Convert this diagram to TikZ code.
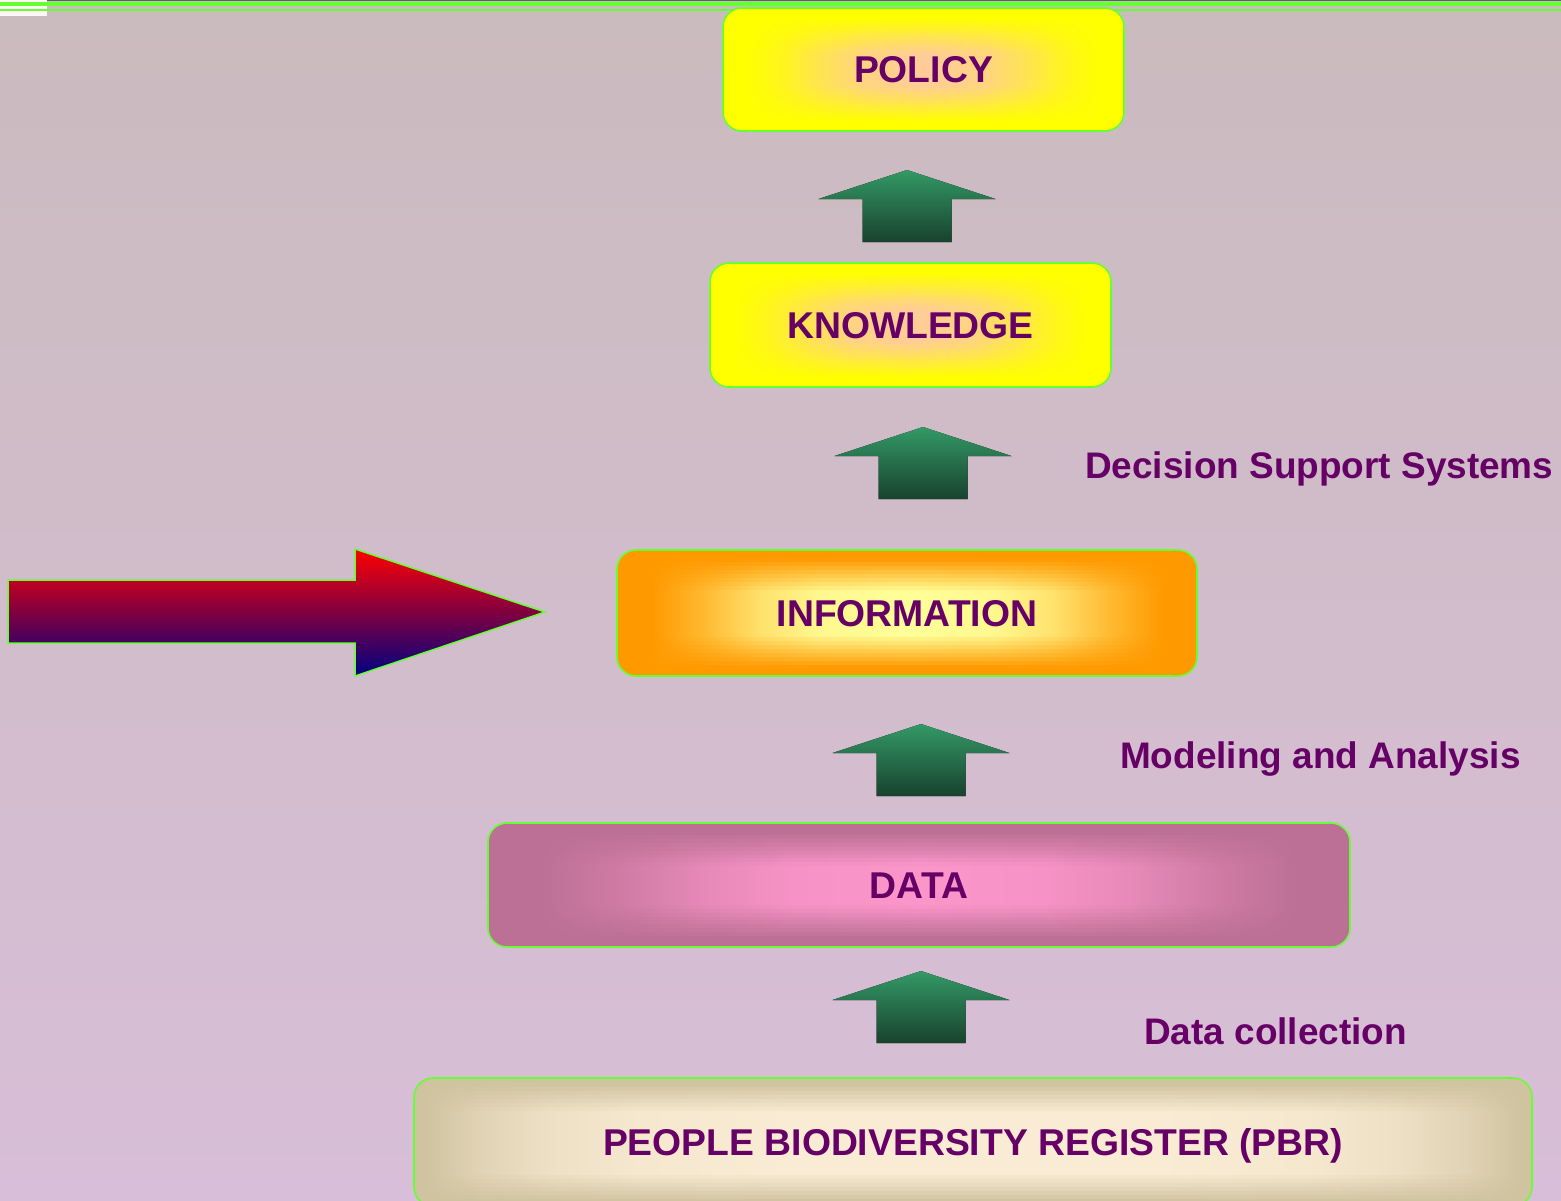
\documentclass[tikz,border=0pt]{standalone}
\usepackage{fontspec}
\setmainfont{Liberation Sans}
\usetikzlibrary{calc}
\definecolor{bgtop}{RGB}{202,187,190}
\definecolor{bgbot}{RGB}{216,190,216}
\definecolor{lime}{RGB}{102,255,51}
\definecolor{txt}{RGB}{102,0,102}
\definecolor{arrtop}{RGB}{51,153,102}
\definecolor{arrbot}{RGB}{24,66,45}
\definecolor{polin}{RGB}{255,204,153}
\definecolor{polout}{RGB}{255,255,0}
\definecolor{infin}{RGB}{255,255,153}
\definecolor{infout}{RGB}{255,153,0}
\definecolor{datin}{RGB}{252,150,202}
\definecolor{datout}{RGB}{188,112,149}
\definecolor{pbrin}{RGB}{250,236,212}
\definecolor{pbrout}{RGB}{208,195,160}
\definecolor{navyb}{RGB}{0,0,130}
\definecolor{bigmid}{RGB}{160,0,135}
\colorlet{gout}{white}\colorlet{gin}{white}\colorlet{gA}{white}\colorlet{gB}{white}\colorlet{gC}{white}
\pgfdeclarehorizontalshading[gout,gA,gB,gC,gin]{boxhA}{100bp}{color(0bp)=(gout); color(28bp)=(gout); color(32.5bp)=(gA); color(37.5bp)=(gB); color(42.5bp)=(gC); color(50bp)=(gin); color(57.5bp)=(gC); color(62.5bp)=(gB); color(67.5bp)=(gA); color(72bp)=(gout); color(100bp)=(gout)}
\pgfdeclarehorizontalshading[gout,gA,gB,gC,gin]{boxhB}{100bp}{color(0bp)=(gout); color(25.5bp)=(gout); color(28bp)=(gA); color(31bp)=(gB); color(35bp)=(gC); color(42bp)=(gin); color(58bp)=(gin); color(65bp)=(gC); color(69bp)=(gB); color(72bp)=(gA); color(74.5bp)=(gout); color(100bp)=(gout)}
% #1 inner, #2 outer, #3 shading, #4-#6 mix percentages, #7 vstart, #8 vspan
\newcommand\gradfill[8]{%
  \foreach \j in {0,...,31}{%
    \pgfmathsetmacro\t{1-abs(2*(\j+0.5)/32-1)}%
    \pgfmathsetmacro\v{100*min(1,max(0,(\t-#7)/#8))}%
    \colorlet{gout}{#2}%
    \colorlet{gin}{#1!\v!#2}%
    \colorlet{gA}{gin!#4!gout}%
    \colorlet{gB}{gin!#5!gout}%
    \colorlet{gC}{gin!#6!gout}%
    \shade[sharp corners, shading=#3] ($(path picture bounding box.south west)!{\j/32}!(path picture bounding box.north west)$) rectangle ($(path picture bounding box.south east)!{(\j+1.08)/32}!(path picture bounding box.north east)$);
  }}
\tikzset{
  box/.style={draw=lime, line width=1.6pt, rounded corners=19pt,
    font=\bfseries\fontsize{37.3}{40}\selectfont, text=txt,
    text height=26.5pt, text depth=0pt, inner sep=0pt},
  lbl/.style={font=\bfseries\fontsize{36.95}{40}\selectfont, text=txt, inner sep=0pt, anchor=base west},
  uparrow/.style={top color=arrtop, bottom color=arrbot},
}
\newcommand\uparr[3]{%
  \coordinate (#1) at (#2,#3);
  \fill[uparrow, shift={(#1)}] (-44.5,72) -- (-44.5,29) -- (-88.5,29) -- (0,0) -- (88.5,29) -- (44.5,29) -- (44.5,72) -- cycle;}
\begin{document}
\begin{tikzpicture}[x=1pt,y=-1pt]
\useasboundingbox (0,0) rectangle (1561,1200);
% background
\fill[top color=bgtop, bottom color=bgbot] (0,0) rectangle (1561,1200);
\fill[white!85!pink] (0,0) rectangle (47,16);
\fill[black!60!green!50!gray] (47,0) rectangle (1561,1.3);
\fill[lime] (0,1.5) rectangle (1561,6);
\fill[lime] (0,9) rectangle (1561,11.3);
% boxes
\node[box, minimum width=401pt, minimum height=123pt, path picture={\gradfill{polin}{polout}{boxhA}{20}{55}{85}{0.16}{0.58}}] (policy) at (923.5,69.5) {POLICY};
\node[box, minimum width=401pt, minimum height=124pt, path picture={\gradfill{polin}{polout}{boxhA}{20}{55}{85}{0.16}{0.58}}] (knowledge) at (910.5,325) {KNOWLEDGE};
\node[box, minimum width=580pt, minimum height=126pt, path picture={\gradfill{infin}{infout}{boxhA}{32}{72}{93}{0.14}{0.52}}] (information) at (907,613) {INFORMATION};
\node[box, minimum width=862pt, minimum height=124pt, path picture={\gradfill{datin}{datout}{boxhA}{28}{66}{90}{0.15}{0.55}}] (data) at (919,885) {DATA};
\node[box, minimum width=1118pt, minimum height=128pt, path picture={\gradfill{pbrin}{pbrout}{boxhB}{40}{70}{90}{0.08}{0.45}}] (pbr) at (973,1142) {PEOPLE BIODIVERSITY REGISTER (PBR)};
% up arrows
\uparr{a1}{907}{170}
\uparr{a2}{923}{427}
\uparr{a3}{921}{724}
\uparr{a4}{921}{971}
% labels
\node[lbl] (dss) at (1085,478) {Decision Support Systems};
\node[lbl] (mda) at (1120,768) {Modeling and Analysis};
\node[lbl] (dco) at (1144,1044) {Data collection};
% big arrow
\coordinate (bigtip) at (545,612);
\draw[draw=lime, line width=1.5pt, top color=red, middle color=bigmid, bottom color=navyb]
  (8,580) -- (355,580) -- (355,549) -- (bigtip) -- (355,676) -- (355,643) -- (8,643) -- cycle;
\end{tikzpicture}
\end{document}
